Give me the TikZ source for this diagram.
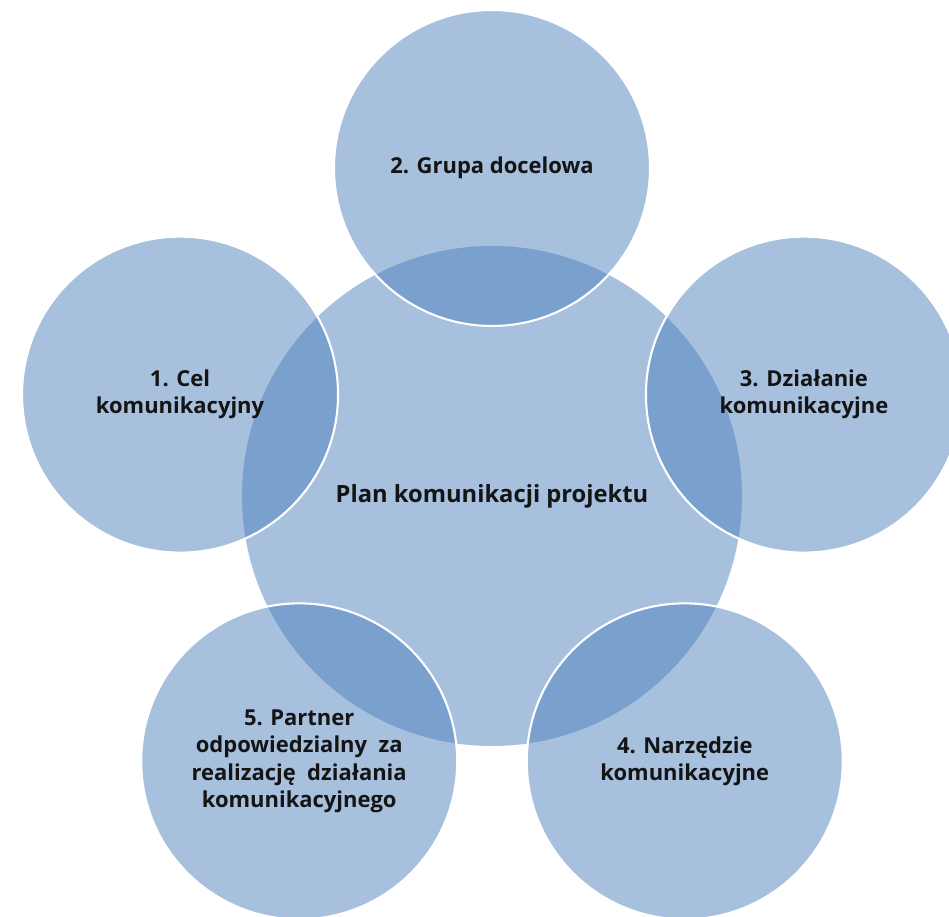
\documentclass[tikz,border=0pt]{standalone}
\usepackage{fontspec}
\setmainfont{Open Sans}
\usepackage{xcolor}
\usepackage{tikz}
\definecolor{accentBlue}{HTML}{4F81BD}
\definecolor{inkDark}{HTML}{141414}

\begin{document}
\begin{tikzpicture}[
  hub/.style={circle,fill=accentBlue,fill opacity=.5,text opacity=1,
    minimum size=10cm,inner sep=0pt,align=center,text=inkDark,
    font=\fontsize{13.5pt}{16pt}\selectfont\bfseries},
  part/.style={circle,fill=accentBlue,fill opacity=.5,text opacity=1,
    draw=white,draw opacity=1,line width=1.2pt,
    minimum size=6.32cm,inner sep=0pt,align=center,text=inkDark,
    font=\fontsize{12.5pt}{15.5pt}\selectfont\bfseries}
]
\useasboundingbox (-9.84,-8.42) rectangle (9.14,9.92);
\node[hub] (plan) at (0,0) {Plan komunikacji projektu};
\node[part] (grupa) at (90:6.56) {2. Grupa docelowa};
\node[part] (cel) at (162:6.56) {1. Cel\\komunikacyjny};
\node[part] (dzialanie) at (18:6.56) {3. Działanie\\komunikacyjne};
\node[part] (narzedzie) at (306:6.56) {4. Narzędzie\\komunikacyjne};
\node[part] (partner) at (234:6.56) {5. Partner\\odpowiedzialny\ \ za\\realizację\ \ działania\\komunikacyjnego};
\end{tikzpicture}
\end{document}
